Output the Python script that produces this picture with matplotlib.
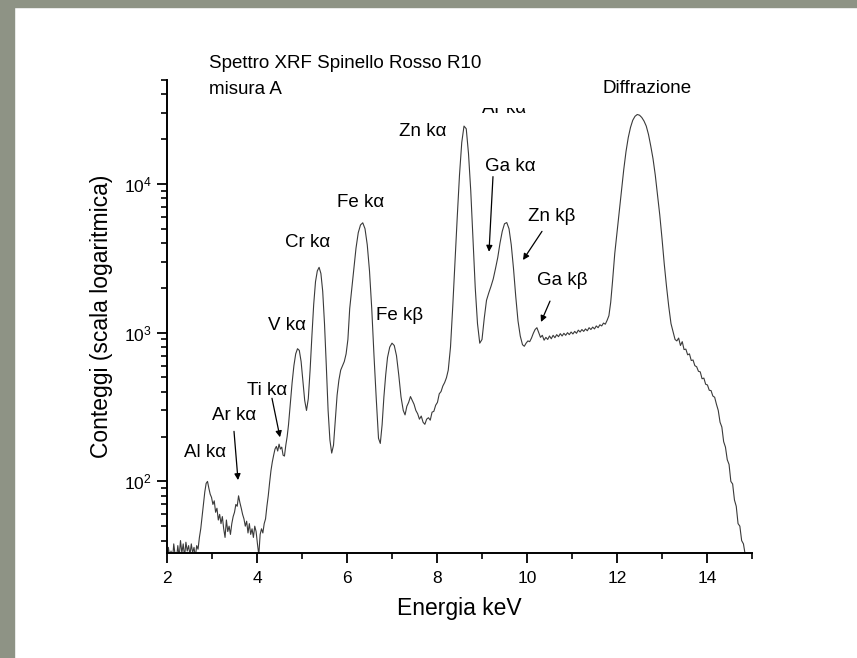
import matplotlib
matplotlib.use("Agg")
import matplotlib.pyplot as plt
from matplotlib.ticker import MultipleLocator, LogLocator, NullFormatter, FuncFormatter
from matplotlib.patches import Rectangle
from matplotlib.transforms import Bbox, TransformedBbox
import numpy as np

plt.rcParams['font.family'] = ['Liberation Sans', 'DejaVu Sans']
plt.rcParams['mathtext.fontset'] = 'custom'
plt.rcParams['mathtext.rm'] = 'Liberation Sans'
plt.rcParams['mathtext.it'] = 'Liberation Sans:italic'

# ---- data ----
energy_kev = [
    2.00, 2.03, 2.06, 2.09, 2.12, 2.15, 2.18, 2.21, 2.24, 2.27, 2.30, 2.33, 2.36, 2.39, 2.42, 2.45,
    2.48, 2.51, 2.54, 2.57, 2.60, 2.63, 2.66, 2.69, 2.72, 2.75, 2.78, 2.81, 2.84, 2.87, 2.90, 2.93,
    2.96, 2.99, 3.02, 3.05, 3.08, 3.11, 3.14, 3.17, 3.20, 3.23, 3.26, 3.29, 3.32, 3.35, 3.38, 3.41,
    3.44, 3.47, 3.50, 3.53, 3.56, 3.59, 3.62, 3.65, 3.68, 3.71, 3.74, 3.77, 3.80, 3.83, 3.86, 3.89,
    3.92, 3.95, 3.98, 4.01, 4.04, 4.07, 4.10, 4.13, 4.16, 4.19, 4.22, 4.25, 4.28, 4.31, 4.34, 4.37,
    4.40, 4.43, 4.46, 4.49, 4.52, 4.55, 4.58, 4.61, 4.64, 4.67, 4.70, 4.74, 4.78, 4.82, 4.86, 4.90,
    4.94, 4.98, 5.02, 5.06, 5.10, 5.14, 5.18, 5.22, 5.26, 5.30, 5.34, 5.38, 5.42, 5.46, 5.50, 5.54,
    5.58, 5.62, 5.66, 5.70, 5.74, 5.78, 5.82, 5.86, 5.90, 5.94, 5.98, 6.02, 6.06, 6.10, 6.15, 6.20,
    6.25, 6.30, 6.35, 6.40, 6.45, 6.50, 6.55, 6.60, 6.65, 6.70, 6.74, 6.78, 6.82, 6.86, 6.90, 6.95,
    7.00, 7.05, 7.10, 7.15, 7.20, 7.25, 7.29, 7.33, 7.37, 7.41, 7.45, 7.49, 7.53, 7.57, 7.61, 7.65,
    7.69, 7.73, 7.77, 7.81, 7.85, 7.89, 7.93, 7.97, 8.01, 8.05, 8.09, 8.13, 8.17, 8.21, 8.25, 8.30,
    8.35, 8.40, 8.45, 8.50, 8.55, 8.60, 8.65, 8.70, 8.75, 8.80, 8.85, 8.90, 8.95, 9.00, 9.05, 9.10,
    9.15, 9.20, 9.25, 9.30, 9.35, 9.40, 9.45, 9.50, 9.55, 9.60, 9.65, 9.70, 9.75, 9.80, 9.85, 9.90,
    9.94, 9.98, 10.02, 10.06, 10.10, 10.14, 10.18, 10.22, 10.26, 10.30, 10.34, 10.38, 10.42, 10.46,
    10.50, 10.54, 10.58, 10.62, 10.66, 10.70, 10.74, 10.78, 10.82, 10.86, 10.90, 10.94, 10.98, 11.02,
    11.06, 11.10, 11.14, 11.18, 11.22, 11.26, 11.30, 11.34, 11.38, 11.42, 11.46, 11.50, 11.54, 11.58,
    11.62, 11.66, 11.70, 11.74, 11.78, 11.82, 11.86, 11.90, 11.95, 12.00, 12.05, 12.10, 12.15, 12.20,
    12.25, 12.30, 12.35, 12.40, 12.45, 12.50, 12.55, 12.60, 12.65, 12.70, 12.75, 12.80, 12.85, 12.90,
    12.95, 13.00, 13.05, 13.10, 13.15, 13.20, 13.25, 13.29, 13.33, 13.37, 13.41, 13.45, 13.49, 13.53,
    13.57, 13.61, 13.65, 13.69, 13.73, 13.77, 13.81, 13.85, 13.89, 13.93, 13.97, 14.01, 14.05, 14.09,
    14.13, 14.17, 14.21, 14.25, 14.29, 14.33, 14.37, 14.41, 14.45, 14.49, 14.53, 14.57, 14.61, 14.65,
    14.69, 14.73, 14.77, 14.81, 14.85, 14.89,
]
counts = [
    30, 36, 31, 34, 29, 38, 32, 30, 37, 31, 40, 33, 38, 31, 39, 34,
    37, 32, 38, 33, 36, 31, 37, 35, 42, 48, 58, 70, 85, 97, 100, 90,
    82, 78, 70, 74, 62, 66, 55, 60, 52, 58, 48, 42, 55, 46, 50, 44,
    52, 58, 62, 70, 68, 80, 72, 66, 60, 56, 50, 54, 45, 52, 44, 48,
    42, 50, 46, 38, 32, 44, 48, 45, 52, 56, 68, 80, 98, 118, 135, 150,
    165, 172, 160, 178, 165, 170, 150, 148, 175, 200, 240, 330, 460, 600, 720, 780,
    760, 640, 470, 350, 300, 360, 560, 950, 1550, 2200, 2600, 2750, 2500, 1900, 1150, 600,
    300, 190, 155, 175, 260, 380, 480, 560, 600, 640, 720, 900, 1450, 1900, 2700, 3700,
    4700, 5300, 5480, 5000, 3900, 2600, 1450, 700, 360, 195, 180, 240, 370, 520, 680, 800,
    850, 820, 700, 520, 370, 300, 280, 320, 340, 372, 350, 330, 300, 285, 262, 275,
    250, 242, 262, 268, 258, 292, 296, 325, 340, 388, 402, 438, 462, 498, 560, 800,
    1500, 3000, 6000, 11500, 19000, 24500, 23500, 16000, 9000, 4300, 2000, 1150, 850, 900, 1250, 1650,
    1850, 2050, 2300, 2700, 3200, 4000, 4800, 5400, 5500, 5000, 3900, 2700, 1750, 1200, 950, 830,
    810, 850, 880, 870, 920, 990, 1050, 1080, 1000, 930, 960, 890, 930, 900,
    950, 910, 960, 925, 970, 940, 985, 950, 990, 960, 1000, 970, 1010, 980,
    1020, 990, 1040, 1010, 1050, 1020, 1060, 1030, 1080, 1050, 1090, 1060, 1110, 1080,
    1130, 1110, 1160, 1140, 1210, 1300, 1600, 2200, 3400, 4700, 6500, 9000, 12500, 16500,
    20500, 24000, 26800, 28500, 29300, 29000, 28000, 26500, 24500, 21500, 18000, 14800, 11500, 8500,
    6200, 4300, 2900, 2050, 1500, 1150, 1000, 900, 880, 920, 820, 870, 770, 775,
    710, 720, 650, 655, 600, 590, 550, 545, 490, 495, 450, 445, 410, 408,
    375, 368, 330, 300, 250, 232, 185, 170, 140, 130, 100, 96, 75, 68,
    52, 50, 40, 38, 32, 30,
]

x_ticks = [2, 4, 6, 8, 10, 12, 14]

W, H = 857, 658
fig = plt.figure(figsize=(W / 100, H / 100), dpi=100, facecolor='white')

# slide background strips
gray = '#8e9385'
fig.patches.append(Rectangle((0, 0), 14 / W, 1, transform=fig.transFigure, color=gray, zorder=0))
fig.patches.append(Rectangle((0, 1 - 7 / H), 1, 7 / H, transform=fig.transFigure, color=gray, zorder=0))

ax = fig.add_axes([167 / W, 1 - 553 / H, (752 - 167) / W, (553 - 80) / H])
ax.set_facecolor('none')
ax.plot(energy_kev, counts, color='#3a3a3a', lw=0.8)

ax.set_yscale('log')
ax.set_xlim(2, 15)
ax.set_ylim(33, 5e4)

for s in ['top', 'right']:
    ax.spines[s].set_visible(False)
for s in ['left', 'bottom']:
    ax.spines[s].set_linewidth(1.4)

ax.set_xticks(x_ticks)
ax.xaxis.set_minor_locator(MultipleLocator(1))
ax.yaxis.set_major_locator(LogLocator(base=10, subs=(1.0,)))
ax.yaxis.set_minor_locator(LogLocator(base=10, subs=np.arange(2, 10)))
ax.yaxis.set_minor_formatter(NullFormatter())
ax.yaxis.set_major_formatter(FuncFormatter(lambda v, p: r'$\mathregular{10^{%d}}$' % round(np.log10(v))))

ax.tick_params(axis='both', which='major', direction='out', length=7, width=1.3, labelsize=12.5)
ax.tick_params(axis='x', which='major', pad=6)
ax.tick_params(axis='y', which='major', pad=4)
ax.tick_params(axis='both', which='minor', direction='out', length=4, width=1.2)

ax.set_xlabel('Energia keV', fontsize=16.5, labelpad=8)
ax.set_ylabel('Conteggi (scala logaritmica)', fontsize=16.5, labelpad=8)

fs = 13.5
txt = dict(fontsize=fs, ha='center', va='center', clip_on=False)
ax.text(2.933, 64600, 'Spettro XRF Spinello Rosso R10', fontsize=fs, ha='left', va='center', clip_on=False)
ax.text(2.933, 43100, 'misura A', fontsize=fs, ha='left', va='center', clip_on=False)
ax.text(12.667, 43800, 'Diffrazione', **txt)
ax.text(7.689, 22500, 'Zn kα', **txt)
ax.text(6.311, 7480, 'Fe kα', **txt)
ax.text(5.133, 4020, 'Cr kα', **txt)
ax.text(4.667, 1110, 'V kα', **txt)
ax.text(7.178, 1295, 'Fe kβ', **txt)
ax.text(2.844, 157, 'Al kα', **txt)

arrow = dict(arrowstyle='-|>', lw=0.9, color='black', mutation_scale=9, shrinkA=0, shrinkB=0)
ax.text(9.622, 13090, 'Ga kα', **txt)
ax.annotate('', xy=(9.156, 3500), xytext=(9.244, 11200), arrowprops=arrow)
ax.text(10.556, 6030, 'Zn kβ', **txt)
ax.annotate('', xy=(9.911, 3080), xytext=(10.333, 4800), arrowprops=arrow)
ax.text(10.778, 2230, 'Ga kβ', **txt)
ax.annotate('', xy=(10.311, 1180), xytext=(10.511, 1630), arrowprops=arrow)
ax.text(4.222, 410, 'Ti kα', **txt)
ax.annotate('', xy=(4.511, 198), xytext=(4.333, 362), arrowprops=arrow)
ax.text(3.489, 279, 'Ar kα', **txt)
ax.annotate('', xy=(3.578, 102), xytext=(3.489, 217), arrowprops=arrow)

# partially hidden label at the top of the plot
t = ax.text(9.489, 29800, 'Ar kα', fontsize=fs, ha='center', va='baseline')
t.set_clip_on(True)
t.set_clip_box(TransformedBbox(Bbox.from_extents(0, 0, 1, 1 - 108 / H), fig.transFigure))

fig.savefig('out.png', dpi=100, facecolor='white')
